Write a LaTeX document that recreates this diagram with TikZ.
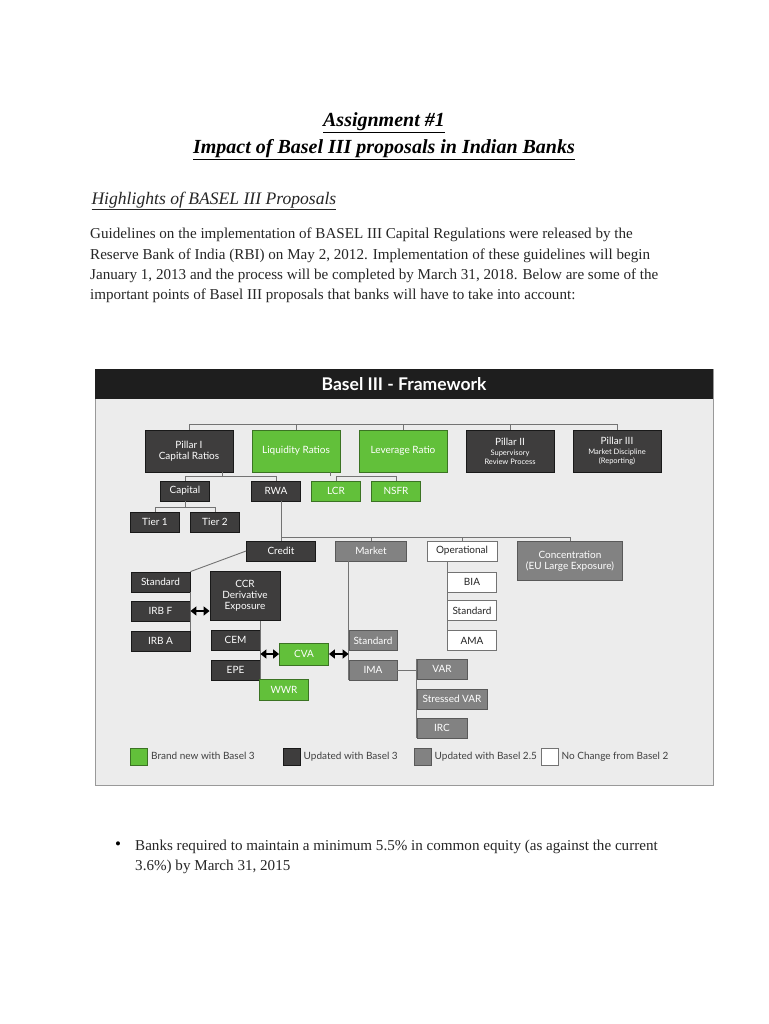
\documentclass[tikz,border=0pt]{standalone}
\usepackage{fontspec}
\setmainfont{Liberation Serif}
\newfontfamily\diagfont{Lato}
\usetikzlibrary{arrows.meta,positioning,calc}
\definecolor{panelgray}{HTML}{ECECEC}
\definecolor{newgreen}{HTML}{62C03A}
\definecolor{darkbox}{HTML}{3E3D3D}
\definecolor{midbox}{HTML}{828282}
\definecolor{headblack}{HTML}{1E1E1E}

\begin{document}
\begin{tikzpicture}[x=1pt,y=-1pt,
  box/.style={line width=0.8pt,text=white,font=\diagfont\fontsize{10}{11}\selectfont,
    align=center,inner sep=1pt,minimum width=49pt,minimum height=20pt},
  newbox/.style={box,fill=newgreen,draw=newgreen!60!black},
  upd3box/.style={box,fill=darkbox,draw=black!90},
  upd25box/.style={box,fill=midbox,draw=black!65},
  samebox/.style={box,fill=white,draw=black!55,text=black!85},
  pillar/.style={minimum width=88pt,minimum height=42pt},
  link/.style={draw=black!55,line width=0.9pt},
  dbl/.style={{Triangle[length=6pt,width=9pt]}-{Triangle[length=6pt,width=9pt]},line width=2pt,black},
  key/.style={minimum width=17pt,minimum height=17pt,inner sep=0pt},
  keytext/.style={anchor=west,text height=7.5pt,text depth=2pt,font=\diagfont\fontsize{10}{12}\selectfont,text=black!75}]
\useasboundingbox (0,0) rectangle (768,1024);
\fill[white] (0,0) rectangle (768,1024);

% page text
\node[font=\bfseries\itshape\fontsize{20}{24}\selectfont] (title1) at (384,123) {\underline{Assignment \#1}};
\node[font=\bfseries\itshape\fontsize{20}{24}\selectfont] (title2) at (384,150) {\underline{Impact of Basel III proposals in Indian Banks}};
\node[anchor=west,font=\itshape\fontsize{17.6}{20}\selectfont,text=black!85] (highlights) at (88,201) {\underline{Highlights of BASEL III Proposals}};
\node[anchor=north west,align=left,inner sep=0pt,font=\fontsize{15.1}{20.2}\selectfont,text=black!85] (intro) at (90,228)
  {Guidelines on the implementation of BASEL III Capital Regulations were released by the\\
   Reserve Bank of India (RBI) on May 2, 2012. Implementation of these guidelines will begin\\
   January 1, 2013 and the process will be completed by March 31, 2018. Below are some of the\\
   important points of Basel III proposals that banks will have to take into account:};

% panel
\filldraw[fill=panelgray,draw=black!40] (95,369) rectangle (713,785);
\fill[headblack] (95,369) rectangle (713,399);
\node[font=\diagfont\bfseries\fontsize{17.5}{20}\selectfont,text=white] (head) at (404,384) {Basel III - Framework};

% pillars
\node[upd3box,pillar] (pil1) at (189,451) {Pillar I\\Capital Ratios};
\node[newbox,pillar] (liq) at (296,451) {Liquidity Ratios};
\node[newbox,pillar] (lev) at (403,451) {Leverage Ratio};
\node[upd3box,pillar] (pil2) at (510,451) {Pillar II\\[-1pt]{\fontsize{7.5}{8.5}\selectfont Supervisory}\\[-2pt]{\fontsize{7.5}{8.5}\selectfont Review Process}};
\node[upd3box,pillar] (pil3) at (617,451) {Pillar III\\[-1pt]{\fontsize{7.5}{8.5}\selectfont Market Discipline}\\[-2pt]{\fontsize{7.5}{8.5}\selectfont (Reporting)}};

\node[upd3box] (cap) at (185,491) {Capital};
\node[upd3box] (rwa) at (276,491) {RWA};
\node[newbox] (lcr) at (336,491) {LCR};
\node[newbox] (nsfr) at (396,491) {NSFR};
\node[upd3box] (tier1) at (155,522) {Tier 1};
\node[upd3box] (tier2) at (215,522) {Tier 2};

\node[upd3box,minimum width=69pt] (credit) at (281,551) {Credit};
\node[upd25box,minimum width=71pt] (market) at (371,551) {Market};
\node[samebox,minimum width=70pt] (oper) at (462,551) {Operational};
\node[upd25box,minimum width=105pt,minimum height=39pt] (conc) at (570,561) {Concentration\\(EU Large Exposure)};

% credit
\node[upd3box,minimum width=59pt] (std1) at (160.5,582) {Standard};
\node[upd3box,minimum width=59pt] (irbf) at (160.5,611) {IRB F};
\node[upd3box,minimum width=59pt] (irba) at (160.5,641) {IRB A};
\node[upd3box,minimum width=70pt,minimum height=49pt] (ccr) at (245,596) {CCR\\Derivative\\Exposure};
\node[upd3box] (cem) at (235.5,640) {CEM};
\node[upd3box] (epe) at (235.5,670) {EPE};
\node[newbox,minimum height=22pt] (cva) at (304,654) {CVA};
\node[newbox,minimum height=21pt] (wwr) at (284,690) {WWR};

% market
\node[upd25box,minimum width=48pt] (std2) at (373,640.5) {Standard};
\node[upd25box,minimum width=48pt] (ima) at (373,670) {IMA};
\node[upd25box,minimum width=50pt] (var) at (442,669) {VAR};
\node[upd25box,minimum width=70pt] (svar) at (452,699) {Stressed VAR};
\node[upd25box,minimum width=50pt] (irc) at (442,728) {IRC};

% operational
\node[samebox] (bia) at (472,582) {BIA};
\node[samebox] (std3) at (472,610.5) {Standard};
\node[samebox] (ama) at (472,640.5) {AMA};

% connectors
\coordinate (topbus) at (0,424);
\draw[link] (pil1.north) -- (pil1.north |- topbus) -- (pil3.north |- topbus) -- (pil3.north);
\foreach \n in {liq,lev,pil2} \draw[link] (\n.north) -- (\n.north |- topbus);

\coordinate (midbus) at (0,476);
\coordinate (p1out) at ($(pil1.south east)+(-11,0)$);
\coordinate (liqout) at ($(liq.south east)+(-10,0)$);
\draw[link] (cap.north) -- (cap.north |- midbus) -- (rwa.north |- midbus) -- (rwa.north);
\draw[link] (p1out) -- (p1out |- midbus);
\draw[link] (lcr.north) -- (lcr.north |- midbus) -- (nsfr.north |- midbus) -- (nsfr.north);
\draw[link] (liqout) -- (liqout |- midbus);

\coordinate (tierbus) at (0,507);
\draw[link] (tier1.north) -- (tier1.north |- tierbus) -- (tier2.north |- tierbus) -- (tier2.north);
\draw[link] (cap.south) -- (cap.south |- tierbus);

\coordinate (riskbus) at (0,537);
\draw[link] (credit.north |- rwa.south) -- (credit.north);
\draw[link] (credit.north |- riskbus) -- (conc.north |- riskbus);
\foreach \n in {market,oper,conc} \draw[link] (\n.north) -- (\n.north |- riskbus);

\draw[link] (credit.west) -- (std1.north east);
\draw[link] (std1.south east) -- (irba.north east);
\draw[link] (cem.east |- ccr.south) -- (cem.east |- wwr.north);
\draw[link] (std2.west |- market.south) -- (ima.south west);
\draw[link] (ima.east) -- (var.west |- ima.east);
\draw[link] (var.north west) -- (irc.south west);
\draw[link] (bia.west |- oper.south) -- (ama.south west);

\draw[dbl] (irbf.east) -- (ccr.west |- irbf.east);
\draw[dbl] (cem.east |- cva.west) -- (cva.west);
\draw[dbl] (cva.east) -- (std2.west |- cva.east);

% legend
\node[key,fill=newgreen,draw=newgreen!60!black] (keynew) at (139,757) {};
\node[keytext] (keynewtext) at (keynew.east) {Brand new with Basel 3};
\node[key,fill=darkbox,draw=black!90] (keyupd3) at (291.5,757) {};
\node[keytext] (keyupd3text) at (keyupd3.east) {Updated with Basel 3};
\node[key,fill=midbox,draw=black!65] (keyupd25) at (422.5,757) {};
\node[keytext] (keyupd25text) at (keyupd25.east) {Updated with Basel 2.5};
\node[key,fill=white,draw=black!55] (keysame) at (549.5,757) {};
\node[keytext] (keysametext) at (keysame.east) {No Change from Basel 2};

% bullet
\node[font=\fontsize{17}{20}\selectfont] (bullet) at (118,846) {\textbullet};
\node[anchor=north west,align=left,inner sep=0pt,font=\fontsize{15.1}{20.2}\selectfont,text=black!85] (point) at (135,840)
  {Banks required to maintain a minimum 5.5\% in common equity (as against the current\\
   3.6\%) by March 31, 2015};
\end{tikzpicture}
\end{document}
